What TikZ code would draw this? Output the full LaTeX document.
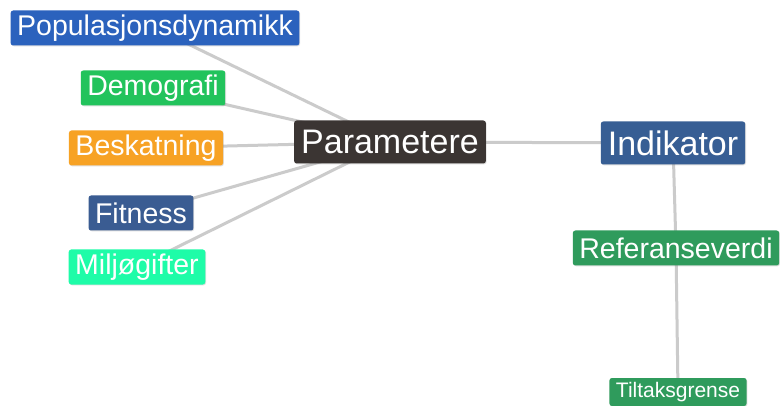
\documentclass[tikz,border=0pt]{standalone}
\usepackage{fontspec}
\setmainfont{Liberation Sans}
\usetikzlibrary{shadows,backgrounds}
\definecolor{popblue}{HTML}{2B62BD}
\definecolor{demogreen}{HTML}{22C35C}
\definecolor{taxorange}{HTML}{F7A224}
\definecolor{fitblue}{HTML}{3A5C92}
\definecolor{envgreen}{HTML}{1EFCA8}
\definecolor{pardark}{HTML}{3B3533}
\definecolor{indblue}{HTML}{375E94}
\definecolor{refgreen}{HTML}{2F9B5C}
\definecolor{linkgray}{HTML}{CBCBCB}
\tikzset{
  tag/.style={fill=#1, text=white, rounded corners=2.5pt, inner xsep=6.5pt,
    inner ysep=0pt, minimum height=35pt,
    drop shadow={opacity=0.25, shadow xshift=0.8pt, shadow yshift=-0.8pt},
    font=\fontsize{28.5}{30}\selectfont},
  bigtag/.style={tag=#1, minimum height=43pt, inner xsep=7pt,
    font=\fontsize{34}{36}\selectfont},
  smalltag/.style={tag=#1, minimum height=28pt, inner xsep=6.5pt,
    font=\fontsize{21}{23}\selectfont},
  link/.style={draw=linkgray, line width=3pt}
}
\begin{document}
\begin{tikzpicture}[x=1pt, y=-1pt]
      \useasboundingbox (0,0) rectangle (782,406);
      \node[bigtag=pardark] (param) at (390,142) {Parametere};
      \node[bigtag=indblue] (indik) at (673,143) {Indikator};
      \node[tag=popblue] (popdyn) at (155,28) {Populasjonsdynamikk};
      \node[tag=demogreen] (demo) at (153,88) {Demografi};
      \node[tag=taxorange] (beskat) at (146,148) {Beskatning};
      \node[tag=fitblue] (fitn) at (141,213) {Fitness};
      \node[tag=envgreen] (miljo) at (137,267) {Miljøgifter};
      \node[tag=refgreen] (refv) at (676,248) {Referanseverdi};
      \node[smalltag=refgreen] (tiltak) at (678,392) {Tiltaksgrense};
      \begin{scope}[on background layer]
        \fill[white] (0,0) rectangle (782,406);
        \draw[link] (param.center) to (popdyn.center);
        \draw[link] (param.center) to (demo.center);
        \draw[link] (param.center) to (beskat.center);
        \draw[link] (param.center) to (fitn.center);
        \draw[link] (param.center) to (miljo.center);
        \draw[link] (param.center) to (indik.center);
        \draw[link] (indik.center) to (refv.center);
        \draw[link] (refv.center) to (tiltak.center);
      \end{scope}
    \end{tikzpicture}
\end{document}
